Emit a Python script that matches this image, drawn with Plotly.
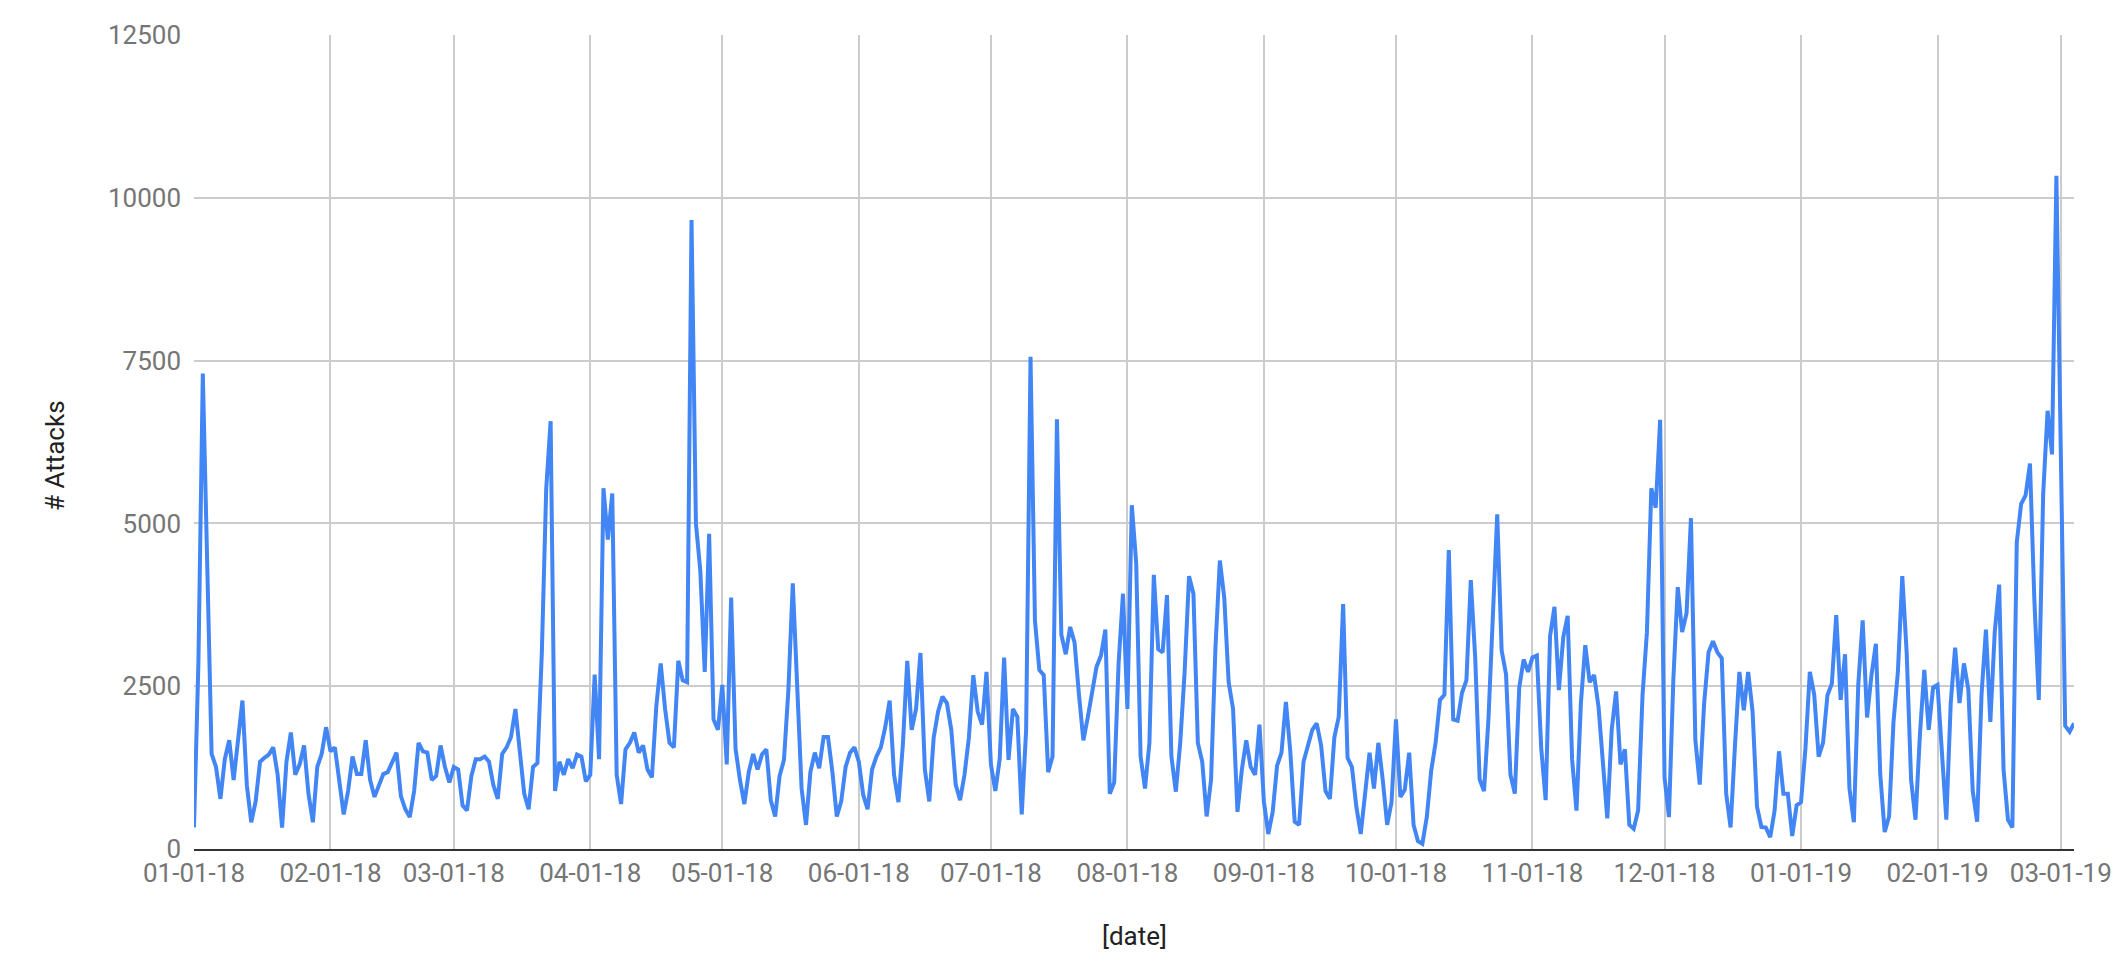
import pandas as pd
import plotly.graph_objects as go

start_date = "2018-01-01"

attacks_q1_2018 = [
    330, 2850, 7300, 4450, 1460, 1260, 770, 1380, 1670, 1060,
    1710, 2280, 980, 410, 730, 1340, 1400, 1450, 1560, 1140,
    330, 1340, 1790, 1140, 1300, 1590, 850, 410, 1260, 1460,
    1870, 1500, 1560, 1060, 530, 890, 1420, 1150, 1150, 1670,
    1060, 800, 980, 1150, 1180, 1340, 1480, 810, 610, 490,
    890, 1630, 1500, 1480, 1060, 1120, 1590, 1260, 1020, 1260,
    1220, 670, 590, 1120, 1380, 1380, 1420, 1340, 980, 770,
    1460, 1560, 1720, 2150, 1540, 850, 610, 1260, 1320, 3010,
    5530, 6570, 890, 1340, 1140, 1380, 1240, 1450, 1420, 1040,
]
attacks_q2_2018 = [
    1140, 2680, 1380, 5540, 4750, 5460, 1140, 690, 1530, 1630,
    1790, 1480, 1590, 1220, 1100, 2190, 2850, 2150, 1630, 1560,
    2890, 2590, 2560, 9660, 5000, 4270, 2720, 4840, 1990, 1830,
    2520, 1300, 3860, 1540, 1060, 690, 1180, 1460, 1220, 1450,
    1530, 750, 500, 1120, 1370, 2440, 4080, 2320, 930, 370,
    1180, 1480, 1240, 1720, 1720, 1180, 500, 730, 1260, 1480,
    1560, 1340, 830, 610, 1220, 1420, 1560, 1870, 2280, 1140,
    720, 1600, 2890, 1830, 2150, 3010, 1220, 730, 1710, 2110,
    2340, 2240, 1830, 990, 750, 1140, 1710, 2670, 2110, 1910,
    2720,
]
attacks_q3_2018 = [
    1300, 890, 1380, 2940, 1370, 2150, 2030, 530, 1830, 7560,
    3510, 2750, 2670, 1180, 1420, 6600, 3290, 2990, 3410, 3170,
    2370, 1670, 2020, 2440, 2800, 2970, 3370, 850, 1020, 2850,
    3920, 2150, 5280, 4390, 1420, 930, 1630, 4210, 3070, 3020,
    3900, 1420, 880, 1630, 2720, 4190, 3920, 1630, 1340, 500,
    1060, 3090, 4430, 3860, 2560, 2150, 570, 1220, 1670, 1260,
    1140, 1910, 730, 230, 570, 1280, 1480, 2260, 1500, 420,
    370, 1340, 1590, 1830, 1930, 1590, 890, 770, 1710, 2030,
    3760, 1400, 1260, 650, 230, 890, 1480, 930, 1630, 1060,
    370, 720,
]
attacks_q4_2018 = [
    1990, 800, 910, 1480, 370, 120, 80, 490, 1200, 1630,
    2290, 2370, 4590, 1990, 1970, 2400, 2590, 4130, 2930, 1070,
    890, 1990, 3660, 5140, 3050, 2680, 1140, 850, 2480, 2910,
    2720, 2940, 2970, 1540, 750, 3270, 3720, 2440, 3250, 3580,
    1380, 590, 2240, 3130, 2560, 2670, 2190, 1280, 470, 1830,
    2420, 1300, 1530, 370, 310, 590, 2360, 3330, 5540, 5240,
    6590, 1100, 490, 2600, 4020, 3330, 3620, 5080, 1670, 990,
    2240, 3020, 3190, 3020, 2930, 850, 330, 1590, 2720, 2130,
    2720, 2110, 650, 340, 330, 180, 590, 1500, 850, 850,
    200, 670,
]
attacks_2019 = [
    720, 1540, 2720, 2370, 1420, 1630, 2360, 2540, 3590, 2290,
    2990, 930, 410, 2520, 3510, 2020, 2670, 3150, 1140, 260,
    500, 1950, 2720, 4190, 3010, 1060, 450, 1750, 2750, 1830,
    2480, 2520, 1500, 450, 2240, 3090, 2240, 2850, 2450, 890,
    420, 2370, 3370, 1950, 3330, 4060, 1220, 450, 330, 4710,
    5300, 5430, 5920, 3820, 2290, 5450, 6730, 6060, 10340, 6100,
    1890, 1800, 1930,
]

attacks = attacks_q1_2018 + attacks_q2_2018 + attacks_q3_2018 + attacks_q4_2018 + attacks_2019
dates = pd.date_range(start_date, periods=len(attacks), freq="D")

y_ticks = [0, 2500, 5000, 7500, 10000, 12500]
y_ticktext = ["0", "2500", "5000", "7500", "10000", "12500"]
x_tickvals = pd.date_range("2018-01-01", "2019-03-01", freq="MS")
x_ticktext = [d.strftime("%m-%d-%y") for d in x_tickvals]

fig = go.Figure()
fig.add_trace(go.Scatter(
    x=dates, y=attacks, mode="lines",
    line=dict(color="#4285F4", width=4),
    showlegend=False,
))

# page has an 8px body margin; compensate so the plot area lands where the reference's is
W, H = 2116, 962
L, R, T, B = 186, 48, 19, 121
pw, ph = W - L - R, H - T - B

fig.update_layout(
    width=W, height=H,
    margin=dict(l=L, r=R, t=T, b=B),
    paper_bgcolor="white", plot_bgcolor="white",
    font=dict(family="Roboto, Arial, sans-serif", size=26, color="#757575"),
    xaxis=dict(
        range=[dates[0], dates[-1]],
        tickvals=list(x_tickvals), ticktext=x_ticktext,
        showgrid=True, gridcolor="#cccccc", gridwidth=1.5,
        showline=True, linecolor="#333333", linewidth=2,
        zeroline=False, ticks="", ticklabelstandoff=0,
        tickfont=dict(size=26, color="#757575"),
    ),
    yaxis=dict(
        range=[0, 12500],
        tickvals=y_ticks, ticktext=y_ticktext,
        showgrid=True, gridcolor="#cccccc", gridwidth=1.5,
        showline=False, zeroline=False, ticks="", ticklabelstandoff=12,
        tickfont=dict(size=26, color="#757575"),
    ),
    annotations=[
        dict(text="# Attacks", xref="paper", yref="paper",
             x=(55 - 8 - L) / pw, y=(H - B - (452 - 8)) / ph, textangle=-90,
             showarrow=False, xanchor="center", yanchor="middle",
             font=dict(size=26, color="#222222")),
        dict(text="[date]", xref="paper", yref="paper",
             x=0.5, y=(H - B - (937 - 8)) / ph,
             showarrow=False, xanchor="center", yanchor="middle",
             font=dict(size=26, color="#222222")),
    ],
)

fig.write_html("out.html")
